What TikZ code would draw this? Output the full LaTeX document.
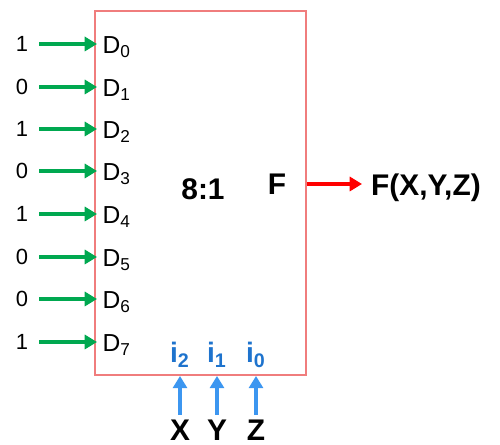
\documentclass[tikz,border=0pt]{standalone}
\usepackage{fontspec}
\setmainfont{Liberation Sans}
\usepackage{tikz}
\usetikzlibrary{arrows.meta,positioning,calc}
\usepackage{xcolor}
\definecolor{muxred}{RGB}{240,125,125}
\definecolor{ingreen}{RGB}{0,168,80}
\definecolor{selblue}{RGB}{60,150,240}
\definecolor{labblue}{RGB}{30,115,205}

\begin{document}
\begin{tikzpicture}[
    x=0.02cm, y=-0.02cm,
    font=\fontsize{12.5}{14}\selectfont,
    val/.style={inner sep=1pt},
    din/.style={anchor=west, inner sep=3pt, font=\fontsize{14}{16}\selectfont},
    big/.style={font=\fontsize{17}{20}\selectfont\bfseries},
    sel/.style={font=\fontsize{16}{18}\selectfont\bfseries, text=labblue, inner sep=1pt},
    gar/.style={-{Triangle[length=7pt,width=8pt]}, line width=2pt, ingreen},
    rar/.style={-{Triangle[length=7pt,width=8pt]}, line width=2pt, red},
    bar/.style={-{Triangle[length=7pt,width=8pt]}, line width=2pt, selblue},
  ]
    \useasboundingbox (0,0) rectangle (500,445);

    \node[draw=muxred, line width=1.1pt, minimum width=4.22cm, minimum height=7.28cm] (mux) at (200.5,193) {};

    \node[val] (v0) at (22,44) {1};
    \node[val] (v1) at (22,87) {0};
    \node[val] (v2) at (22,129) {1};
    \node[val] (v3) at (22,171) {0};
    \node[val] (v4) at (22,214) {1};
    \node[val] (v5) at (22,257) {0};
    \node[val] (v6) at (22,299) {0};
    \node[val] (v7) at (22,342) {1};

    \node[din] (d0) at (97,47) {D\textsubscript{0}};
    \node[din] (d1) at (97,90) {D\textsubscript{1}};
    \node[din] (d2) at (97,132) {D\textsubscript{2}};
    \node[din] (d3) at (97,174) {D\textsubscript{3}};
    \node[din] (d4) at (97,217) {D\textsubscript{4}};
    \node[din] (d5) at (97,260) {D\textsubscript{5}};
    \node[din] (d6) at (97,302) {D\textsubscript{6}};
    \node[din] (d7) at (97,345) {D\textsubscript{7}};

    \draw[gar] (v0.east) ++(9,0) -- (d0.west |- v0);
    \draw[gar] (v1.east) ++(9,0) -- (d1.west |- v1);
    \draw[gar] (v2.east) ++(9,0) -- (d2.west |- v2);
    \draw[gar] (v3.east) ++(9,0) -- (d3.west |- v3);
    \draw[gar] (v4.east) ++(9,0) -- (d4.west |- v4);
    \draw[gar] (v5.east) ++(9,0) -- (d5.west |- v5);
    \draw[gar] (v6.east) ++(9,0) -- (d6.west |- v6);
    \draw[gar] (v7.east) ++(9,0) -- (d7.west |- v7);

    \node[big] (ratio) at (203,189) {8:1};
    \node[big] (f) at (277,184) {F};
    \node[big, anchor=west, inner sep=5pt] (out) at (362,188) {F(X,Y,Z)};
    \draw[rar] (mux.east |- f) -- (out.west |- f);

    \node[sel] (i2) at (180,355) {i\textsubscript{2}};
    \node[sel] (i1) at (217,355) {i\textsubscript{1}};
    \node[sel] (i0) at (256,355) {i\textsubscript{0}};

    \node[big, inner sep=1pt] (x) at (180,430) {X};
    \node[big, inner sep=1pt] (y) at (217,430) {Y};
    \node[big, inner sep=1pt] (z) at (256,430) {Z};

    \draw[bar] (x.north) ++(0,-3) -- (x |- mux.south);
    \draw[bar] (y.north) ++(0,-3) -- (y |- mux.south);
    \draw[bar] (z.north) ++(0,-3) -- (z |- mux.south);
  \end{tikzpicture}
\end{document}
